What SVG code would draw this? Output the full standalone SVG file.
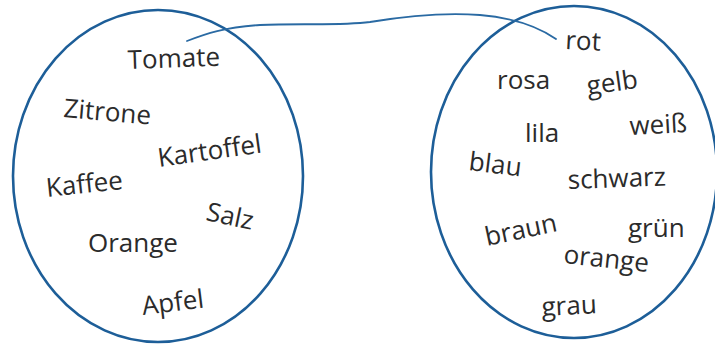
<svg xmlns="http://www.w3.org/2000/svg" width="715" height="345" viewBox="0 0 715 345">
<style>
.set{fill:none;stroke:#1d5e98;stroke-width:2.6}
.w{font-family:"Open Sans","Noto Sans",sans-serif;font-size:26px;fill:#2b2b2b}
.link{fill:none;stroke:#2a6aa3;stroke-width:1.8;stroke-linecap:round}
</style>
<rect width="715" height="345" fill="#ffffff"/>
<g id="set-left">
<ellipse class="set" cx="158" cy="176" rx="145" ry="166"/>
<text class="w" x="128" y="69" transform="rotate(-2 128 69)">Tomate</text>
<text class="w" x="63" y="117" transform="rotate(5 63 117)">Zitrone</text>
<text class="w" x="159" y="167" transform="rotate(-8 159 167)">Kartoffel</text>
<text class="w" x="47" y="197" transform="rotate(-6 47 197)">Kaffee</text>
<text class="w" x="205" y="220" transform="rotate(12 205 220)">Salz</text>
<text class="w" x="88" y="252" transform="rotate(0 88 252)">Orange</text>
<text class="w" x="143" y="315" transform="rotate(-7 143 315)">Apfel</text>
</g>
<g id="set-right">
<ellipse class="set" cx="574" cy="172" rx="143" ry="166"/>
<text class="w" x="565" y="49" transform="rotate(3 565 49)">rot</text>
<text class="w" x="497" y="89">rosa</text>
<text class="w" x="588" y="95" transform="rotate(-8 588 95)">gelb</text>
<text class="w" x="525" y="142">lila</text>
<text class="w" x="630" y="135" transform="rotate(-3 630 135)">weiß</text>
<text class="w" x="468" y="170" transform="rotate(7 468 170)">blau</text>
<text class="w" x="568" y="189" transform="rotate(-2 568 189)">schwarz</text>
<text class="w" x="487" y="246" transform="rotate(-12 487 246)">braun</text>
<text class="w" x="628" y="237">grün</text>
<text class="w" x="563" y="263" transform="rotate(6 563 263)">orange</text>
<text class="w" x="542" y="316" transform="rotate(-3 542 316)">grau</text>
</g>
<g id="connectors">
<path class="link" d="M187,41 C205,34 225,27 260,25 C300,23 340,26 370,22 C400,17 440,12 480,15 C515,18 540,28 556,39"/>
</g>
</svg>
